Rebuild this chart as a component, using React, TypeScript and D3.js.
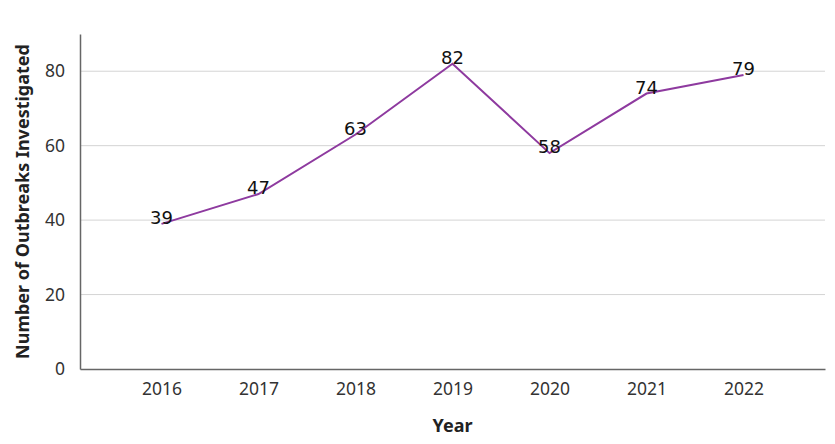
import React, { useEffect, useRef } from 'react';
import * as d3 from 'd3';

const years = ['2016', '2017', '2018', '2019', '2020', '2021', '2022'];
const outbreaks = [39, 47, 63, 82, 58, 74, 79];
const yTicks = [0, 20, 40, 60, 80];

const W = 835;
const H = 444;
const margin = { top: 34, right: 10, bottom: 75, left: 80 };

export default function App() {
  const ref = useRef<SVGSVGElement>(null);

  useEffect(() => {
    const svg = d3.select(ref.current);
    svg.selectAll('*').remove();

    const innerW = W - margin.left - margin.right;
    const innerH = H - margin.top - margin.bottom;

    const g = svg.append('g').attr('transform', `translate(${margin.left},${margin.top})`);

    const x = d3.scalePoint<string>().domain(years).range([0, innerW]).padding(0.84);
    const y = d3.scaleLinear().domain([0, 90]).range([innerH, 0]);

    // gridlines
    g.append('g')
      .selectAll('line')
      .data(yTicks.slice(1))
      .join('line')
      .attr('x1', 0)
      .attr('x2', innerW)
      .attr('y1', (d) => y(d))
      .attr('y2', (d) => y(d))
      .attr('stroke', '#d4d4d4')
      .attr('stroke-width', 1);

    const font = "'Noto Sans', 'Open Sans', sans-serif";

    const yAxis = g
      .append('g')
      .call(d3.axisLeft(y).tickValues(yTicks).tickSize(0).tickPadding(15));
    yAxis.select('.domain').attr('stroke', '#666').attr('stroke-width', 1.5);
    yAxis.selectAll('text').attr('font-family', font).attr('font-size', 17.5).attr('fill', '#333');

    const xAxis = g
      .append('g')
      .attr('transform', `translate(0,${innerH})`)
      .call(d3.axisBottom(x).tickSize(0).tickPadding(14));
    xAxis.select('.domain').attr('stroke', '#666').attr('stroke-width', 1.5);
    xAxis.selectAll('text').attr('font-family', font).attr('font-size', 17.5).attr('fill', '#333');

    const line = d3
      .line<number>()
      .x((_, i) => x(years[i]) as number)
      .y((d) => y(d));

    g.append('path')
      .datum(outbreaks)
      .attr('fill', 'none')
      .attr('stroke', '#8e3a9f')
      .attr('stroke-width', 2)
      .attr('d', line);

    g.append('g')
      .selectAll('text')
      .data(outbreaks)
      .join('text')
      .attr('x', (_, i) => x(years[i]) as number)
      .attr('y', (d) => y(d))
      .attr('text-anchor', 'middle')
      .attr('font-family', "'DejaVu Sans', sans-serif")
      .attr('font-size', 18)
      .attr('fill', '#111')
      .text((d) => d);

    svg
      .append('text')
      .attr('transform', `translate(29,${margin.top + innerH / 2}) rotate(-90)`)
      .attr('text-anchor', 'middle')
      .attr('font-family', font)
      .attr('font-weight', 'bold')
      .attr('font-size', 18)
      .attr('fill', '#222')
      .text('Number of Outbreaks Investigated');

    svg
      .append('text')
      .attr('x', margin.left + innerW / 2)
      .attr('y', 432)
      .attr('text-anchor', 'middle')
      .attr('font-family', font)
      .attr('font-weight', 'bold')
      .attr('font-size', 18)
      .attr('fill', '#222')
      .text('Year');
  }, []);

  return <svg ref={ref} width={W} height={H} style={{ display: 'block', margin: '-8px' }} />;
}
